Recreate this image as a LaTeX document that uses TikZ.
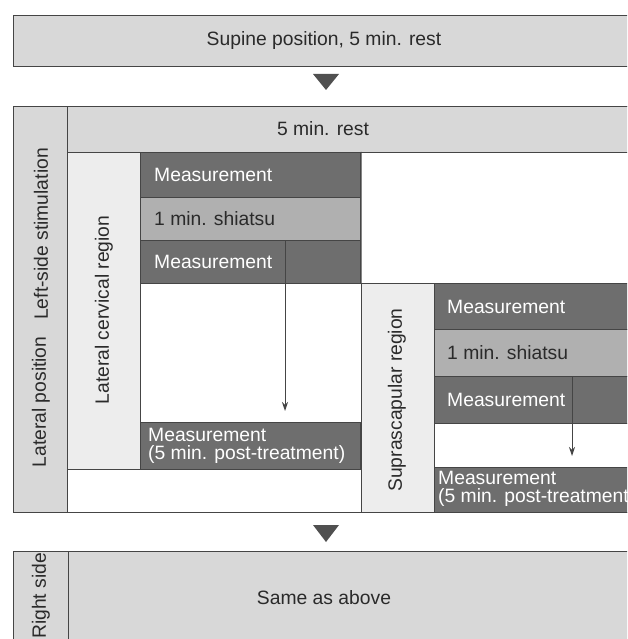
\documentclass[tikz,border=0pt]{standalone}
\usepackage{fontspec}
\setmainfont{Liberation Sans}
\usetikzlibrary{positioning}
\usetikzlibrary{arrows.meta}

\definecolor{linegray}{HTML}{454545}
\definecolor{boxgray}{HTML}{D8D8D8}
\definecolor{palegray}{HTML}{EDEDED}
\definecolor{midgray}{HTML}{B0B0B0}
\definecolor{darkgray}{HTML}{6E6E6E}
\definecolor{markgray}{HTML}{505050}
\definecolor{textgray}{HTML}{2A2A2A}

\tikzset{
    cell/.style={draw=linegray, line width=1.1pt, rectangle, inner sep=0pt, anchor=north west},
    pale/.style={cell, fill=palegray},
    plain/.style={cell, fill=boxgray},
    meas/.style={cell, fill=darkgray},
    shiatsu/.style={cell, fill=midgray},
    blank/.style={cell, fill=white},
    txt/.style={font=\fontsize{19.3}{18.5}\selectfont, text=textgray, inner sep=0pt},
    wtxt/.style={txt, text=white, align=left},
    vtxt/.style={txt, rotate=90},
    flow/.style={draw=linegray, line width=1pt, -{Stealth[length=9pt, width=6pt]}},
}

\begin{document}
\begin{tikzpicture}[x=1pt, y=-1pt]
            \useasboundingbox (0,0) rectangle (627,639);
            \clip (0,0) rectangle (627,639);

            % first stage
            \node[plain, minimum width=640, minimum height=51] (supine) at (13,15) {};
            \node[txt] (supineT) at (324,41) {Supine position, 5 min. rest};
            \fill[markgray] (313,74) -- (339,74) -- (326,90) -- cycle;

            % left side stimulation
            \begin{scope}
                \node[blank, minimum width=640, minimum height=406] (main) at (13,106) {};
                \node[plain, minimum width=54, minimum height=406] (posCol) at (13,106) {};
                \node[vtxt] (posT) at (41,402) {Lateral position};
                \node[vtxt] (sideT) at (41,234) {Left-side stimulation};
                \node[plain, minimum width=600, minimum height=46] (rest) at (67,106) {};
                \node[txt] (restT) at (323,129) {5 min. rest};
            \end{scope}

            % lateral cervical region
            \begin{scope}
                \node[pale, minimum width=73, minimum height=317] (cervCol) at (67,152) {};
                \node[vtxt] (cervT) at (104,310) {Lateral cervical region};
                \node[meas, minimum width=220, minimum height=45] (cervM1) at (140,152) {};
                \node[shiatsu, minimum width=220, minimum height=43] (cervS) at (140,197) {};
                \node[meas, minimum width=220, minimum height=43] (cervM2) at (140,240) {};
                \node[meas, minimum width=220, minimum height=47] (cervM3) at (140,422) {};
                \node[wtxt, right=14pt of cervM1.west] (cervM1T) {Measurement};
                \node[txt, right=14pt of cervS.west] (cervST) {1 min. shiatsu};
                \node[wtxt, right=14pt of cervM2.west] (cervM2T) {Measurement};
                \node[wtxt, anchor=north west] (cervM3T) at (148,428) {Measurement\\(5 min. post-treatment)};
                \coordinate (cervFrom) at (285,240);
                \coordinate (cervTo) at (285,411);
                \draw[flow] (cervFrom) -- (cervTo);
            \end{scope}

            % suprascapular region
            \begin{scope}
                \node[pale, minimum width=73, minimum height=229] (supCol) at (361,283) {};
                \node[vtxt] (supT) at (397,400) {Suprascapular region};
                \node[meas, minimum width=220, minimum height=46] (supM1) at (434,283) {};
                \node[shiatsu, minimum width=220, minimum height=47] (supS) at (434,329) {};
                \node[meas, minimum width=220, minimum height=47] (supM2) at (434,376) {};
                \node[meas, minimum width=220, minimum height=45] (supM3) at (434,467) {};
                \node[wtxt, right=13pt of supM1.west] (supM1T) {Measurement};
                \node[txt, right=13pt of supS.west] (supST) {1 min. shiatsu};
                \node[wtxt, right=13pt of supM2.west] (supM2T) {Measurement};
                \node[wtxt, anchor=north west] (supM3T) at (438,471) {Measurement\\(5 min. post-treatment)};
                \coordinate (supFrom) at (572,376);
                \coordinate (supTo) at (572,456);
                \draw[flow] (supFrom) -- (supTo);
                \draw[draw=linegray, line width=1.1pt] (cervM1.north east) -- (supCol.north west);
            \end{scope}

            % right side
            \fill[markgray] (313,525) -- (339,525) -- (326,542) -- cycle;
            \node[plain, minimum width=640, minimum height=100] (right) at (13,551) {};
            \node[plain, minimum width=55, minimum height=100] (rightCol) at (13,551) {};
            \node[vtxt] (rightT) at (41,596) {Right side};
            \node[txt] (sameT) at (324,598) {Same as above};
\end{tikzpicture}
\end{document}
